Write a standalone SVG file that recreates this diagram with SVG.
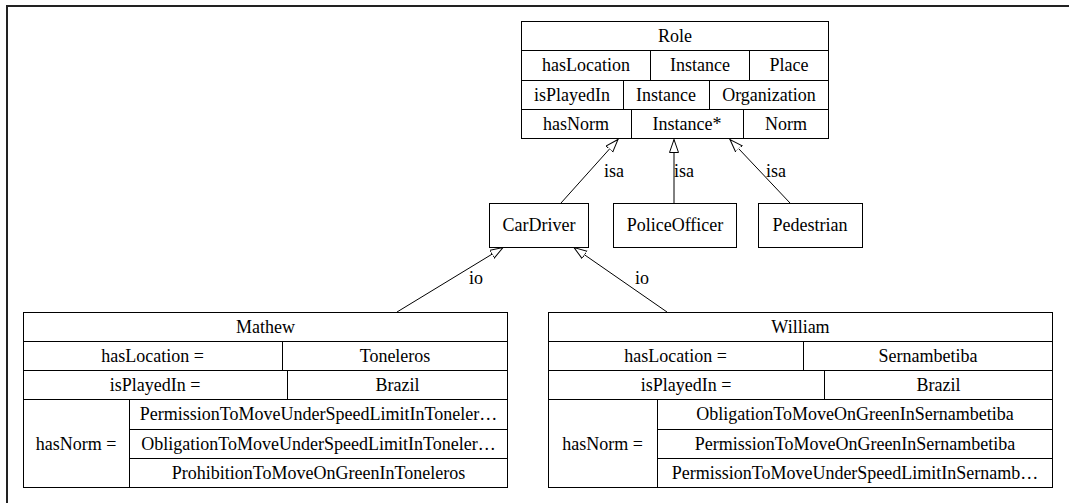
<svg xmlns="http://www.w3.org/2000/svg" width="1069" height="503" viewBox="0 0 1069 503">
  <style>
    .cell { fill: #ffffff; stroke: #000000; stroke-width: 1; }
    .div { stroke: #000000; stroke-width: 1; }
    .t { font-family: "Liberation Serif", "Times New Roman", serif; font-size: 18px; fill: #000000; text-anchor: middle; }
    .edge { stroke: #000000; stroke-width: 1; fill: none; marker-end: url(#hollow); }
    .frame { stroke: #222222; stroke-width: 2; fill: none; }
  </style>
  <defs>
    <marker id="hollow" markerUnits="userSpaceOnUse" markerWidth="16" markerHeight="12" refX="13" refY="5" orient="auto">
      <path d="M0,0.5 L13,5 L0,9.5 Z" fill="#ffffff" stroke="#000000" stroke-width="1"/>
    </marker>
  </defs>

  <rect x="0" y="0" width="1069" height="503" fill="#ffffff"/>
  <!-- outer frame (top and left edges only) -->
  <path class="frame" d="M7,503 L7,6 L1069,6"/>

  <!-- connectors -->
  <g id="connectors">
    <line class="edge" x1="561" y1="203" x2="618" y2="139.5"/>
    <line class="edge" x1="674" y1="203" x2="674" y2="139.5"/>
    <line class="edge" x1="790" y1="203" x2="730" y2="139.5"/>
    <line class="edge" x1="397" y1="312" x2="503" y2="247.5"/>
    <line class="edge" x1="667" y1="312" x2="574" y2="247.5"/>
    <text class="t" x="614" y="177">isa</text>
    <text class="t" x="684" y="177">isa</text>
    <text class="t" x="776" y="177">isa</text>
    <text class="t" x="476" y="284">io</text>
    <text class="t" x="642" y="284">io</text>
  </g>

  <!-- Role class table -->
  <g id="Role">
    <rect class="cell" x="521.5" y="21.5" width="307" height="117"/>
    <line class="div" x1="521.5" y1="50.5" x2="828.5" y2="50.5"/>
    <line class="div" x1="521.5" y1="80.5" x2="828.5" y2="80.5"/>
    <line class="div" x1="521.5" y1="109.5" x2="828.5" y2="109.5"/>
    <line class="div" x1="650.5" y1="50.5" x2="650.5" y2="80.5"/>
    <line class="div" x1="749.5" y1="50.5" x2="749.5" y2="80.5"/>
    <line class="div" x1="623.5" y1="80.5" x2="623.5" y2="109.5"/>
    <line class="div" x1="709.5" y1="80.5" x2="709.5" y2="109.5"/>
    <line class="div" x1="631.5" y1="109.5" x2="631.5" y2="138.5"/>
    <line class="div" x1="743.5" y1="109.5" x2="743.5" y2="138.5"/>
    <text class="t" x="675" y="42">Role</text>
    <text class="t" x="586" y="71">hasLocation</text>
    <text class="t" x="700" y="71">Instance</text>
    <text class="t" x="789" y="71">Place</text>
    <text class="t" x="572" y="101">isPlayedIn</text>
    <text class="t" x="666" y="101">Instance</text>
    <text class="t" x="769" y="101">Organization</text>
    <text class="t" x="576" y="130">hasNorm</text>
    <text class="t" x="687" y="130">Instance*</text>
    <text class="t" x="786" y="130">Norm</text>
  </g>

  <!-- Role subclasses -->
  <g id="CarDriver">
    <rect class="cell" x="489.5" y="203.5" width="99" height="44"/>
    <text class="t" x="539" y="231">CarDriver</text>
  </g>
  <g id="PoliceOfficer">
    <rect class="cell" x="613.5" y="203.5" width="123" height="44"/>
    <text class="t" x="675" y="231">PoliceOfficer</text>
  </g>
  <g id="Pedestrian">
    <rect class="cell" x="758.5" y="203.5" width="104" height="44"/>
    <text class="t" x="810" y="231">Pedestrian</text>
  </g>

  <!-- Mathew instance table -->
  <g id="Mathew">
    <rect class="cell" x="23.5" y="312.5" width="484" height="175"/>
    <line class="div" x1="23.5" y1="341.5" x2="507.5" y2="341.5"/>
    <line class="div" x1="23.5" y1="370.5" x2="507.5" y2="370.5"/>
    <line class="div" x1="23.5" y1="399.5" x2="507.5" y2="399.5"/>
    <line class="div" x1="129.5" y1="429.5" x2="507.5" y2="429.5"/>
    <line class="div" x1="129.5" y1="458.5" x2="507.5" y2="458.5"/>
    <line class="div" x1="282.5" y1="341.5" x2="282.5" y2="370.5"/>
    <line class="div" x1="287.5" y1="370.5" x2="287.5" y2="399.5"/>
    <line class="div" x1="129.5" y1="399.5" x2="129.5" y2="487.5"/>
    <text class="t" x="265.5" y="332.5">Mathew</text>
    <text class="t" x="152.5" y="361.5">hasLocation =</text>
    <text class="t" x="395" y="361.5">Toneleros</text>
    <text class="t" x="155" y="390.5">isPlayedIn =</text>
    <text class="t" x="397.5" y="390.5">Brazil</text>
    <text class="t" x="76" y="450">hasNorm =</text>
    <text class="t" x="318.5" y="420">PermissionToMoveUnderSpeedLimitInToneler…</text>
    <text class="t" x="318.5" y="449.5">ObligationToMoveUnderSpeedLimitInToneler…</text>
    <text class="t" x="318.5" y="479">ProhibitionToMoveOnGreenInToneleros</text>
  </g>

  <!-- William instance table -->
  <g id="William">
    <rect class="cell" x="548.5" y="312.5" width="504" height="175"/>
    <line class="div" x1="548.5" y1="341.5" x2="1052.5" y2="341.5"/>
    <line class="div" x1="548.5" y1="370.5" x2="1052.5" y2="370.5"/>
    <line class="div" x1="548.5" y1="399.5" x2="1052.5" y2="399.5"/>
    <line class="div" x1="657.5" y1="429.5" x2="1052.5" y2="429.5"/>
    <line class="div" x1="657.5" y1="458.5" x2="1052.5" y2="458.5"/>
    <line class="div" x1="803.5" y1="341.5" x2="803.5" y2="370.5"/>
    <line class="div" x1="824.5" y1="370.5" x2="824.5" y2="399.5"/>
    <line class="div" x1="657.5" y1="399.5" x2="657.5" y2="487.5"/>
    <text class="t" x="800.5" y="332.5">William</text>
    <text class="t" x="675.5" y="361.5">hasLocation =</text>
    <text class="t" x="928" y="361.5">Sernambetiba</text>
    <text class="t" x="686" y="390.5">isPlayedIn =</text>
    <text class="t" x="938.5" y="390.5">Brazil</text>
    <text class="t" x="602.5" y="450">hasNorm =</text>
    <text class="t" x="855" y="420">ObligationToMoveOnGreenInSernambetiba</text>
    <text class="t" x="855" y="449.5">PermissionToMoveOnGreenInSernambetiba</text>
    <text class="t" x="855" y="479">PermissionToMoveUnderSpeedLimitInSernamb…</text>
  </g>
</svg>
